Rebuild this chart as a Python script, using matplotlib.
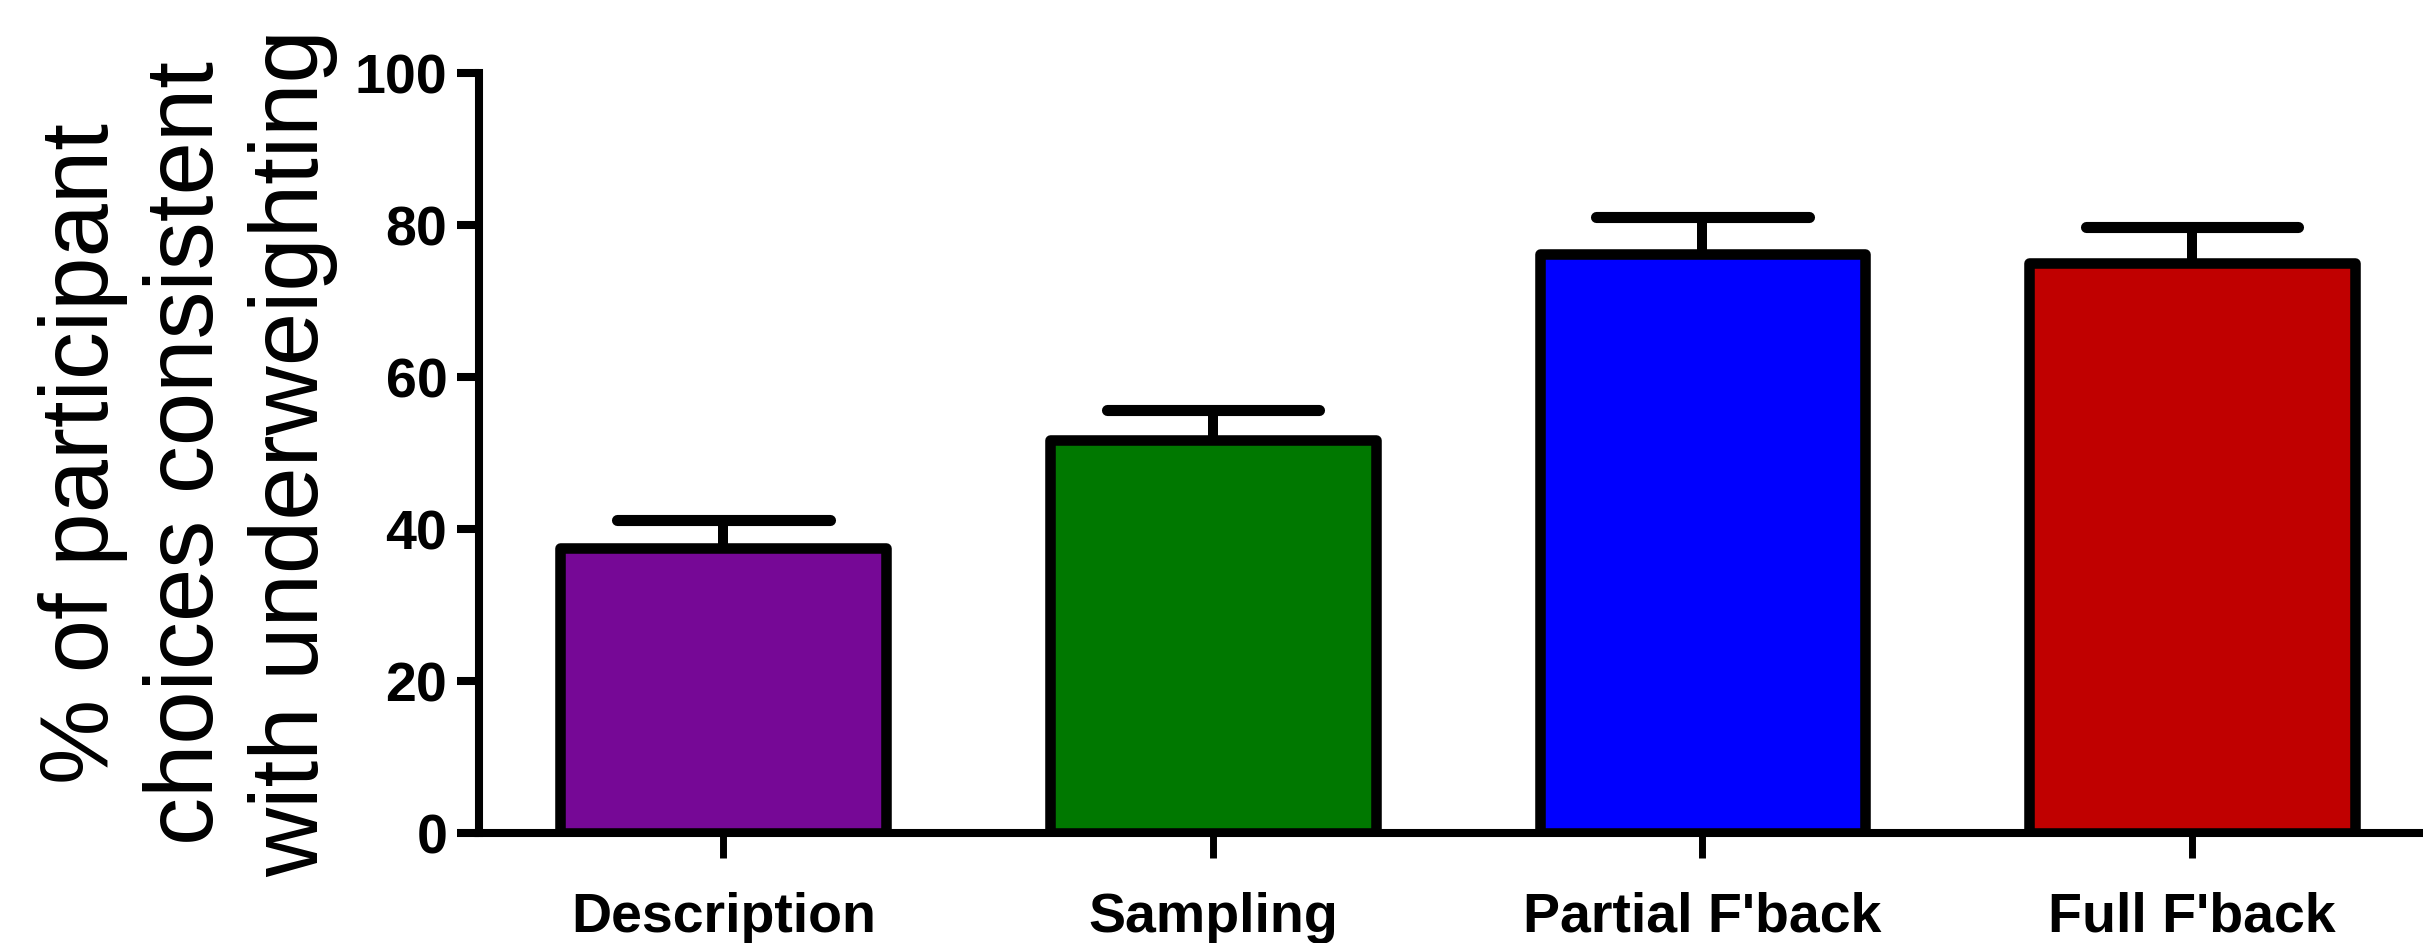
import matplotlib
matplotlib.use("Agg")
import matplotlib.pyplot as plt
import numpy as np

# ---- data ----
categories = ["Description", "Sampling", "Partial F'back", "Full F'back"]
values = [37.5, 51.8, 76.2, 75.0]
errors_upper = [3.75, 3.9, 4.85, 4.8]
bar_colors = ["#760896", "#007800", "#0000FF", "#C00000"]
y_ticks = [0, 20, 40, 60, 80, 100]
y_label = "% of participant\nchoices consistent\nwith underweighting"

# ---- style ----
W, H, DPI = 2423, 943, 100
plt.rcParams['font.family'] = ['Liberation Sans', 'DejaVu Sans']

fig = plt.figure(figsize=(W / DPI, H / DPI), dpi=DPI)
ax = fig.add_axes([478.5 / W, (H - 833.3) / H, (W - 478.5) / W, 760.0 / H])

x = np.arange(len(categories))
bar_width = 0.665
cap_half = 0.217

# error bars (upper only)
tops = np.array(values) + np.array(errors_upper)
ax.vlines(x, values, tops, colors="black", linewidth=7.2, zorder=2)
ax.hlines(tops, x - cap_half, x + cap_half, colors="black", linewidth=8,
          capstyle="round", zorder=2)

bars = ax.bar(x, values, width=bar_width, color=bar_colors, edgecolor="black",
              linewidth=7.6, zorder=3)
for b in bars:
    b.set_joinstyle("round")

ax.set_xlim(-0.5, 3.472)
ax.set_ylim(0, 100)
ax.set_yticks(y_ticks)
ax.set_xticks(x)
ax.set_xticklabels(categories)

for s in ("top", "right"):
    ax.spines[s].set_visible(False)
for s in ("left", "bottom"):
    ax.spines[s].set_linewidth(5.8)
    ax.spines[s].set_capstyle("projecting")
    ax.spines[s].set_zorder(4)

ax.tick_params(axis="y", length=15.5, width=5.8, pad=7, labelsize=40,
               direction="out")
ax.tick_params(axis="x", length=18, width=5.0, pad=24, labelsize=40,
               direction="out")
for lab in ax.get_xticklabels() + ax.get_yticklabels():
    lab.set_fontweight("bold")

ax.set_ylabel(y_label, fontsize=69, linespacing=1.22, ha="center", va="center",
              multialignment="center")
ax.yaxis.set_label_coords(-0.1494, 0.5)

fig.savefig("out.png", dpi=DPI)
